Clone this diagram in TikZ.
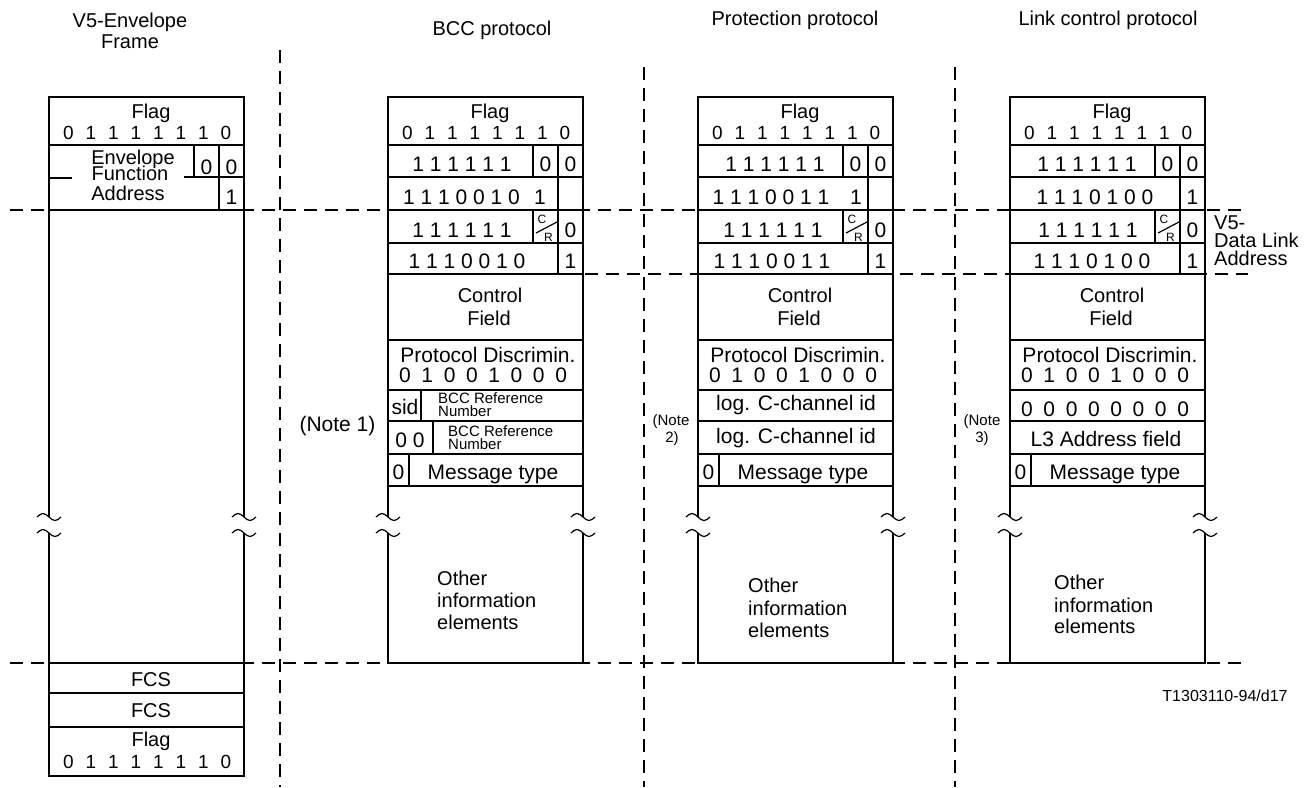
\documentclass[tikz,border=0pt]{standalone}
\usepackage{fontspec}
\setmainfont{Liberation Sans}
\newcommand{\wavy}[2]{\draw[ln] ({#1-12},#2) sin ({#1-6},{#2-3.5}) cos (#1,#2) sin ({#1+6},{#2+3.5}) cos ({#1+12},#2);}
\newcommand{\flagdigits}[3]{\foreach \d [count=\i from 0] in {0,1,1,1,1,1,1,0} \node[f19] (#3\i) at ({#1+19.5+22.5*\i},#2) {\d};}
\newcommand{\pddigits}[4]{\foreach \d [count=\i from 0] in {#4} \node[f21] (#3\i) at ({#1+17+22.3*\i},#2) {\d};}
\newcommand{\protoframe}[2]{%
 \draw[ln] (#1,517) -- (#1,97) -- ({#1+195},97) -- ({#1+195},517);
 \draw[ln] (#1,533) -- (#1,663) -- ({#1+195},663) -- ({#1+195},533);
 \foreach \yy in {145,177,210,243,274,340,390,421,454,486} \draw[ln] (#1,\yy) -- ({#1+195},\yy);
 \draw[ln] ({#1+170},145) -- ({#1+170},274);
 \draw[ln] ({#1+145},145) -- ({#1+145},177);
 \draw[ln] ({#1+145},210) -- ({#1+145},243);
 \draw[ln] ({#1+148},233) -- ({#1+169},222);
 \draw[ln] ({#1+21},454) -- ({#1+21},486);
 \wavy{#1}{517}\wavy{#1}{533}\wavy{#1+195}{517}\wavy{#1+195}{533}
 \node[f20] (#2flag) at ({#1+102},111) {Flag};
 \flagdigits{#1}{132.5}{#2fd}
 \node[f21] (#2r2a) at ({#1+157.5},164) {0};
 \node[f21] (#2r2b) at ({#1+182.5},164) {0};
 \node[f12] (#2c) at ({#1+154},219) {C};
 \node[f12] (#2r) at ({#1+160.5},237) {R};
 \node[f21] (#2r4) at ({#1+182.5},230) {0};
 \node[f21] (#2r5) at ({#1+182.5},261) {1};
 \node[f20] (#2ctl) at ({#1+102},295) {Control};
 \node[f20] (#2fld) at ({#1+101},318) {Field};
 \node[f21] (#2pd) at ({#1+100},355) {Protocol Discrimin.};
 \pddigits{#1}{375}{#2pdd}{0,1,0,0,1,0,0,0}
 \node[f21] (#2m0) at ({#1+10.5},472) {0};
 \node[f21] (#2mt) at ({#1+105},472) {Message type};
}
\begin{document}
\begin{tikzpicture}[x=1pt,y=-1pt,
  ln/.style={line width=1.2pt},
  dsh/.style={line width=1.2pt, dash pattern=on 13pt off 8pt},
  f12/.style={inner sep=0pt, font=\fontsize{12}{12}\selectfont, text height=8.6pt, text depth=0pt},
  f15/.style={inner sep=0pt, font=\fontsize{15}{15}\selectfont, text height=10.7pt, text depth=0pt},
  f16/.style={inner sep=0pt, font=\fontsize{16}{16}\selectfont, text height=11.5pt, text depth=0pt},
  f19/.style={inner sep=0pt, font=\fontsize{19}{19}\selectfont, text height=13.6pt, text depth=0pt},
  f20/.style={inner sep=0pt, font=\fontsize{20}{20}\selectfont, text height=14.3pt, text depth=0pt},
  f21/.style={inner sep=0pt, font=\fontsize{21}{21}\selectfont, text height=15pt, text depth=0pt}]
\fill[white] (0,0) rectangle (1314,787);
\useasboundingbox (0,0) rectangle (1314,787);
% dashed separators
\draw[dsh] (280,50) -- (280,787);
\draw[dsh] (644,67) -- (644,787);
\draw[dsh] (955,67) -- (955,787);
\draw[dsh] (10,210) -- (1248,210);
\draw[dsh] (585,274) -- (1248,274);
\draw[dsh] (10,663) -- (1248,663);
% headers
\node[f20] (h1a) at (130,20) {V5-Envelope};
\node[f20] (h1b) at (130,41) {Frame};
\node[f20] (h2) at (492,28) {BCC protocol};
\node[f20] (h3) at (795,18) {Protection protocol};
\node[f20] (h4) at (1108,18) {Link control protocol};
% envelope frame
\draw[ln] (49,517) -- (49,97) -- (244,97) -- (244,517);
\draw[ln] (49,533) -- (49,776) -- (244,776) -- (244,533);
\foreach \yy in {145,210,663,693,727} \draw[ln] (49,\yy) -- (244,\yy);
\draw[ln] (194,145) -- (194,177);
\draw[ln] (219,145) -- (219,210);
\draw[ln] (184,177) -- (244,177);
\draw[ln] (49,178) -- (72,178);
\wavy{49}{517}\wavy{49}{533}\wavy{244}{517}\wavy{244}{533}
\node[f20] (lflag) at (151,111) {Flag};
\flagdigits{49}{132.5}{lfd}
\node[f20] (lenv) at (133,157) {Envelope};
\node[f20] (lfun) at (130,173) {Function};
\node[f20] (ladr) at (128,193) {Address};
\node[f21] (l0a) at (206.5,167) {0};
\node[f21] (l0b) at (231.5,167) {0};
\node[f21] (l1) at (231.5,197) {1};
\node[f20] (fcs1) at (151,679) {FCS};
\node[f20] (fcs2) at (151,710) {FCS};
\node[f20] (lflag2) at (151,739) {Flag};
\flagdigits{49}{761.5}{lfe}
% BCC protocol
\protoframe{388}{b}
\node[f21] (b2) at (462,164) {1 1 1 1 1 1};
\node[f21] (b3) at (461.5,196.5) {1 1 1 0 0 1 0};
\node[f21] (b3b) at (540,196.5) {1};
\node[f21] (b4) at (462,230) {1 1 1 1 1 1};
\node[f21] (b5) at (467,261) {1 1 1 0 0 1 0};
\draw[ln] (421,390) -- (421,421);
\draw[ln] (433,421) -- (433,454);
\node[f21] (bsid) at (405,407) {sid};
\node[f15,anchor=west] (bref1) at (438,398) {BCC Reference};
\node[f15,anchor=west] (bnum1) at (438,411) {Number};
\node[f21] (b00) at (410,440) {0 0};
\node[f15,anchor=west] (bref2) at (448,431) {BCC Reference};
\node[f15,anchor=west] (bnum2) at (448,444) {Number};
\node[f21] (note1) at (337.5,423.5) {(Note 1)};
\node[f20,anchor=west] (bo1) at (437,578) {Other};
\node[f20,anchor=west] (bo2) at (437,600) {information};
\node[f20,anchor=west] (bo3) at (437,622) {elements};
% Protection protocol
\protoframe{698}{p}
\node[f21] (p2) at (775,164) {1 1 1 1 1 1};
\node[f21] (p3) at (771,196.5) {1 1 1 0 0 1 1};
\node[f21] (p3b) at (856,196.5) {1};
\node[f21] (p4) at (773,230) {1 1 1 1 1 1};
\node[f21] (p5) at (772,261) {1 1 1 0 0 1 1};
\node[f21] (plog1) at (796,403) {log. C-channel id};
\node[f21] (plog2) at (796,435.5) {log. C-channel id};
\node[f15] (note2a) at (671,420) {(Note};
\node[f15] (note2b) at (672,437) {2)};
\node[f20,anchor=west] (po1) at (748,585) {Other};
\node[f20,anchor=west] (po2) at (748,608) {information};
\node[f20,anchor=west] (po3) at (748,630) {elements};
% Link control protocol
\protoframe{1010}{k}
\node[f21] (k2) at (1087,164) {1 1 1 1 1 1};
\node[f21] (k3) at (1095,196.5) {1 1 1 0 1 0 0};
\node[f21] (k3b) at (1192.5,196.5) {1};
\node[f21] (k4) at (1088,230) {1 1 1 1 1 1};
\node[f21] (k5) at (1092,261) {1 1 1 0 1 0 0};
\pddigits{1010}{409}{kz}{0,0,0,0,0,0,0,0}
\node[f21] (kl3) at (1106,439) {L3 Address field};
\node[f15] (note3a) at (982,420) {(Note};
\node[f15] (note3b) at (982,437) {3)};
\node[f20,anchor=west] (ko1) at (1054,582) {Other};
\node[f20,anchor=west] (ko2) at (1054,605) {information};
\node[f20,anchor=west] (ko3) at (1054,626) {elements};
\node[f20,anchor=west] (dl1) at (1214,222) {V5-};
\node[f20,anchor=west] (dl2) at (1214,240) {Data Link};
\node[f20,anchor=west] (dl3) at (1214,258) {Address};
\node[f16] (fig) at (1225,696) {T1303110-94/d17};
\end{tikzpicture}
\end{document}
